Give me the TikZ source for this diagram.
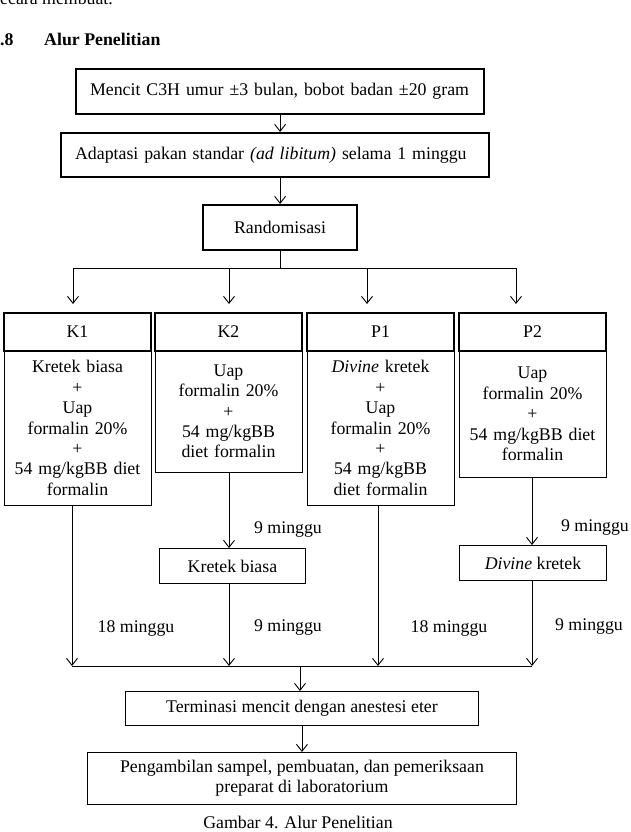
\documentclass[tikz,border=0pt]{standalone}
\usepackage{fontspec}
\setmainfont{Liberation Serif}
\usetikzlibrary{arrows.meta}

\tikzset{
    kotaktebal/.style={draw, line width=2.2pt, inner sep=0pt, align=center},
    kotaktipis/.style={draw, line width=0.9pt, inner sep=0pt, align=center},
    judul/.style={kotaktebal, anchor=north, minimum width=147pt, minimum height=38pt},
    isi/.style={kotaktipis, anchor=north, minimum width=147pt, text width=140pt},
    panah/.style={->, line width=0.9pt},
    garis/.style={line width=0.9pt},
    lama/.style={inner sep=0pt},
}

\begin{document}
\begin{tikzpicture}[x=1pt, y=-1pt, >={Straight Barb[length=7pt,width=11pt]},
        font=\fontsize{17.8}{20.4}\selectfont]
        \useasboundingbox (0,0) rectangle (631,832);
        % ==== HEADING ====
        \node[lama, anchor=base west] (atas) at (0,5) {ecara membuat.};
        \node[lama, anchor=base west, font=\fontsize{17.8}{20.4}\selectfont\bfseries] (nomor) at (0,46) {.8};
        \node[lama, anchor=base west, font=\fontsize{17.8}{20.4}\selectfont\bfseries] (bab) at (44,46) {Alur Penelitian};

        % ==== PERSIAPAN ====
        \node[kotaktebal, anchor=north west, minimum height=45pt, text width=380pt, inner xsep=14pt, align=left] (mencit) at (75,68) {Mencit C3H umur ±3 bulan, bobot badan ±20 gram};
        \node[kotaktebal, anchor=north west, minimum height=44pt, text width=400pt, inner xsep=14pt, align=left] (adaptasi) at (60,132) {Adaptasi pakan standar \textit{(ad libitum)} selama 1 minggu};
        \node[kotaktebal, anchor=north west, minimum width=154pt, minimum height=45pt] (acak) at (202,204) {Randomisasi};
        \draw[panah] (mencit.south) -- (mencit.south |- adaptasi.north);
        \draw[panah] (adaptasi.south -| acak) -- (acak.north);

        % ==== KELOMPOK ====
        \node[isi, minimum height=155pt] (k1isi) at (77.5,350) {Kretek biasa\\+\\Uap\\formalin 20\%\\+\\54 mg/kgBB diet\\formalin};
        \node[isi, minimum height=122pt] (k2isi) at (228.5,350) {Uap\\formalin 20\%\\+\\54 mg/kgBB\\diet formalin};
        \node[isi, minimum height=155pt] (p1isi) at (380.5,350) {\textit{Divine} kretek\\+\\Uap\\formalin 20\%\\+\\54 mg/kgBB\\diet formalin};
        \node[isi, minimum height=127pt] (p2isi) at (532.5,350) {Uap\\formalin 20\%\\+\\54 mg/kgBB diet\\formalin};
        \node[judul] (k1) at (77.5,312) {K1};
        \node[judul] (k2) at (228.5,312) {K2};
        \node[judul] (p1) at (380.5,312) {P1};
        \node[judul] (p2) at (532.5,312) {P2};

        \coordinate (ka) at (73,268);
        \coordinate (kb) at (229,268);
        \coordinate (kc) at (367,268);
        \coordinate (kd) at (516,268);
        \draw[garis] (acak.south) -- (acak.south |- ka);
        \draw[garis] (ka) -- (kd);
        \draw[panah, shorten >=8pt] (ka) -- (ka |- k1.north);
        \draw[panah, shorten >=8pt] (kb) -- (kb |- k2.north);
        \draw[panah, shorten >=8pt] (kc) -- (kc |- p1.north);
        \draw[panah, shorten >=8pt] (kd) -- (kd |- p2.north);

        % ==== PAPARAN ====
        \node[kotaktipis, anchor=north west, minimum width=146pt, minimum height=35pt] (kretek) at (159,548) {Kretek biasa};
        \node[kotaktipis, anchor=north west, minimum width=147pt, minimum height=35pt] (divine) at (459,545) {\textit{Divine} kretek};

        \coordinate (ma) at (72,666);
        \coordinate (mb) at (229,666);
        \coordinate (mc) at (378,666);
        \coordinate (md) at (532,666);
        \coordinate (gabung) at (300,666);
        \draw[panah] (k1isi.south -| ma) -- (ma);
        \draw[panah] (k2isi.south -| mb) -- (mb |- kretek.north);
        \draw[panah] (kretek.south -| mb) -- (mb);
        \draw[panah] (p1isi.south -| mc) -- (mc);
        \draw[panah] (p2isi.south -| md) -- (md |- divine.north);
        \draw[panah] (divine.south -| md) -- (md);
        \draw[garis] (ma) -- (md);

        \node[lama] (w1) at (288,530) {9 minggu};
        \node[lama] (w2) at (595,528) {9 minggu};
        \node[lama] (w3) at (136,628) {18 minggu};
        \node[lama] (w4) at (288,628) {9 minggu};
        \node[lama] (w5) at (449,628) {18 minggu};
        \node[lama] (w6) at (589,627) {9 minggu};

        % ==== AKHIR ====
        \node[kotaktipis, anchor=north west, minimum width=353pt, minimum height=34pt] (terminasi) at (125,691) {Terminasi mencit dengan anestesi eter};
        \node[kotaktipis, anchor=north west, minimum width=429pt, minimum height=52pt] (ambil) at (87,752) {Pengambilan sampel, pembuatan, dan pemeriksaan\\preparat di laboratorium};
        \draw[panah] (gabung) -- (gabung |- terminasi.north);
        \draw[panah] (terminasi.south) -- (ambil.north);

        % ==== Caption ====
        \node[lama] (gambar) at (298,822) {Gambar 4. Alur Penelitian};
\end{tikzpicture}
\end{document}
